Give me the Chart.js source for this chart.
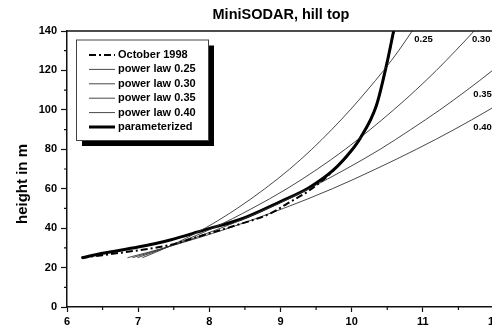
<!DOCTYPE html>
<html>
<head>
<meta charset="utf-8">
<script src="https://cdn.jsdelivr.net/npm/chart.js@4/dist/chart.umd.min.js"></script>
<style>
  html, body { margin: 0; padding: 0; background: #fff; overflow: hidden; }
  canvas { display: block; }
</style>
</head>
<body>
<canvas id="cv" width="500" height="330"></canvas>
<script>
// wind speed (m/s) vs height (m), MiniSODAR on the hill top
const FONT = "'Liberation Sans', Arial, sans-serif";

const octSpeed = [6.2, 6.5, 6.85, 7.2, 7.45, 7.92, 8.39, 8.86, 9.1, 9.4, 9.75, 10.12, 10.35, 10.49, 10.59];
const octHeight = [25, 26.3, 28, 29.8, 31.5, 36.5, 41.6, 47.5, 52.6, 59, 69.5, 85.6, 102.5, 122.8, 140];

const paramSpeed = [6.21, 6.5, 7, 7.45, 7.92, 8.44, 9, 9.4, 9.745, 10, 10.12, 10.35, 10.49, 10.59];
const paramHeight = [25, 27.3, 30.4, 34, 39, 44.5, 53.5, 60.5, 69.5, 79.5, 85.6, 102.5, 122.8, 140];

const plHeight = [25, 30, 40, 50, 60, 70, 80, 90, 100, 110, 120, 130, 140, 150];
const pl25Speed = [7.06, 7.39, 7.94, 8.39, 8.78, 9.13, 9.44, 9.72, 9.98, 10.22, 10.45, 10.66, 10.85, 11.04];
const pl30Speed = [6.99, 7.38, 8.05, 8.60, 9.09, 9.52, 9.91, 10.26, 10.59, 10.90, 11.19, 11.46, 11.72, 11.96];
const pl35Speed = [6.92, 7.38, 8.16, 8.82, 9.40, 9.92, 10.40, 10.83, 11.24, 11.62, 11.98, 12.32];
const pl40Speed = [6.85, 7.37, 8.27, 9.04, 9.73, 10.34, 10.91, 11.44, 11.93, 12.39];

const exponents = ['0.25', '0.30', '0.35', '0.40'];

const xTicks = [6, 7, 8, 9, 10, 11, 12];
const yTicks = [0, 20, 40, 60, 80, 100, 120, 140];

function pts(xs, ys) {
  return xs.map((x, i) => ({ x: x, y: ys[i] }));
}

const plSpeeds = [pl25Speed, pl30Speed, pl35Speed, pl40Speed];

const datasets = [
  {
    label: 'October 1998',
    data: pts(octSpeed, octHeight),
    borderColor: '#000',
    borderWidth: 2,
    borderDash: [7, 3, 2, 3],
  },
];
plSpeeds.forEach((sp, i) => {
  datasets.push({
    label: 'power law ' + exponents[i],
    data: pts(sp, plHeight),
    borderColor: '#333',
    borderWidth: 0.9,
  });
});
datasets.push({
  label: 'parameterized',
  data: pts(paramSpeed, paramHeight),
  borderColor: '#000',
  borderWidth: 3,
});

// text, frame, minor ticks, curve tags and the boxed legend
const decor = {
  id: 'decor',
  afterDraw(chart) {
    const ctx = chart.ctx;
    const a = chart.chartArea;
    const xs = chart.scales.x, ys = chart.scales.y;
    ctx.save();

    // frame top / right
    ctx.strokeStyle = '#111';
    ctx.lineWidth = 1.5;
    ctx.beginPath();
    ctx.moveTo(a.left, a.top);
    ctx.lineTo(a.right, a.top);
    ctx.lineTo(a.right, a.bottom);
    ctx.stroke();

    // minor ticks
    ctx.lineWidth = 1.2;
    ctx.beginPath();
    for (let v = 6.5; v < 12; v += 1) {
      const px = xs.getPixelForValue(v);
      ctx.moveTo(px, a.bottom);
      ctx.lineTo(px, a.bottom + 3);
    }
    for (let v = 10; v < 140; v += 20) {
      const py = ys.getPixelForValue(v);
      ctx.moveTo(a.left, py);
      ctx.lineTo(a.left - 3, py);
    }
    ctx.stroke();

    // title
    ctx.fillStyle = '#000';
    ctx.font = 'bold 14.5px ' + FONT;
    ctx.textAlign = 'center';
    ctx.textBaseline = 'middle';
    ctx.fillText('MiniSODAR, hill top', 281, 15);

    // y axis title
    ctx.save();
    ctx.translate(23, 184);
    ctx.rotate(-Math.PI / 2);
    ctx.font = 'bold 15px ' + FONT;
    ctx.fillText('height in m', 0, 0);
    ctx.restore();

    // exponent tags next to the power law curves
    const tagAt = [[10.88, 136], [11.69, 136], [11.71, 108], [11.71, 91]];
    ctx.font = 'bold 9.5px ' + FONT;
    ctx.textAlign = 'left';
    exponents.forEach((e, i) => {
      ctx.fillText(e, xs.getPixelForValue(tagAt[i][0]), ys.getPixelForValue(tagAt[i][1]));
    });

    // legend box with drop shadow
    const bx = a.left + 9, by = a.top + 8.5, bw = 132, bh = 100.5;
    ctx.fillStyle = '#000';
    ctx.fillRect(bx + 6, by + 6, bw, bh);
    ctx.fillStyle = '#fff';
    ctx.fillRect(bx, by, bw, bh);
    ctx.strokeStyle = '#444';
    ctx.lineWidth = 1;
    ctx.strokeRect(bx + 0.5, by + 0.5, bw, bh);

    ctx.font = 'bold 11px ' + FONT;
    ctx.textBaseline = 'middle';
    chart.data.datasets.forEach((ds, i) => {
      const y = by + 15.5 + i * 14.4;
      ctx.strokeStyle = ds.borderColor;
      ctx.lineWidth = ds.borderWidth;
      ctx.setLineDash(ds.borderDash || []);
      ctx.beginPath();
      ctx.moveTo(bx + 13, y);
      ctx.lineTo(bx + 39, y);
      ctx.stroke();
      ctx.setLineDash([]);
      ctx.fillStyle = '#000';
      ctx.fillText(ds.label, bx + 42, y);
    });

    ctx.restore();
  },
};

new Chart(document.getElementById('cv'), {
  type: 'line',
  data: { datasets: datasets },
  options: {
    responsive: false,
    animation: false,
    devicePixelRatio: 1,
    layout: { padding: { top: 31, right: 6, left: 0, bottom: 0 } },
    elements: {
      point: { radius: 0 },
      line: { cubicInterpolationMode: 'monotone', fill: false },
    },
    plugins: { legend: { display: false }, tooltip: { enabled: false }, title: { display: false } },
    scales: {
      x: {
        type: 'linear',
        min: 6,
        max: 12,
        afterBuildTicks: (s) => { s.ticks = xTicks.map((v) => ({ value: v })); },
        afterFit: (s) => { s.height = 23; s.paddingLeft = 0; s.paddingRight = 0; },
        grid: { drawOnChartArea: false, tickLength: 5, tickColor: '#111', tickWidth: 1.2 },
        border: { color: '#111', width: 1.5 },
        ticks: { color: '#000', padding: 3, maxRotation: 0, font: { family: FONT, size: 11, weight: 'bold' } },
      },
      y: {
        type: 'linear',
        min: 0,
        max: 140,
        afterBuildTicks: (s) => { s.ticks = yTicks.map((v) => ({ value: v })); },
        afterFit: (s) => { s.width = 67; s.paddingTop = 0; s.paddingBottom = 0; },
        grid: { drawOnChartArea: false, tickLength: 6, tickColor: '#111', tickWidth: 1.2 },
        border: { color: '#111', width: 1.5 },
        ticks: { color: '#000', padding: 4, font: { family: FONT, size: 11, weight: 'bold' } },
      },
    },
  },
  plugins: [decor],
});
</script>
</body>
</html>
